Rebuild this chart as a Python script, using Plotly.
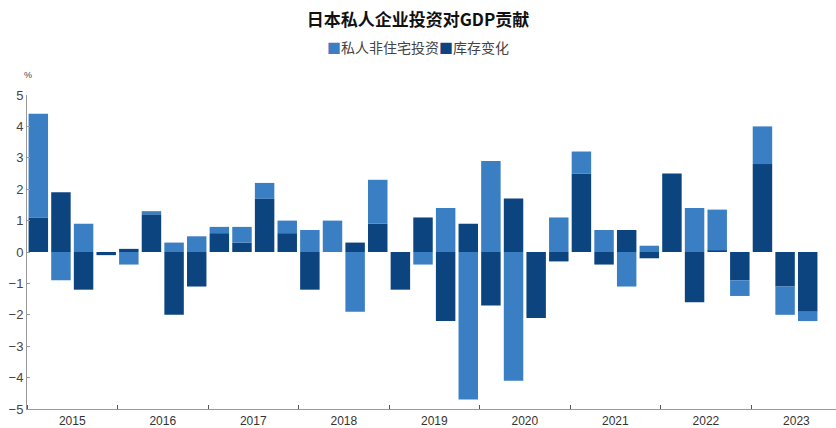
import plotly.graph_objects as go

# Quarterly contributions to Japan's real GDP growth (percentage points), 2015Q1–2023Q3
years = ["2015", "2016", "2017", "2018", "2019", "2020", "2021", "2022", "2023"]
quarters = [f"{y}Q{q}" for y in years for q in range(1, 5)][:35]

inventory_change = [1.1, 1.9, -1.2, -0.1,
                    0.1, 1.2, -2.0, -1.1,
                    0.6, 0.3, 1.7, 0.6,
                    -1.2, 0.0, 0.3, 0.9,
                    -1.2, 1.1, -2.2, 0.9,
                    -1.7, 1.7, -2.1, -0.3,
                    2.5, -0.4, 0.7, -0.2,
                    2.5, -1.6, 0.05, -0.9,
                    2.8, -1.1, -1.9]

nonres_investment = [3.3, -0.9, 0.9, 0.0,
                     -0.4, 0.1, 0.3, 0.5,
                     0.2, 0.5, 0.5, 0.4,
                     0.7, 1.0, -1.9, 1.4,
                     0.0, -0.4, 1.4, -4.7,
                     2.9, -4.1, 0.0, 1.1,
                     0.7, 0.7, -1.1, 0.2,
                     0.0, 1.4, 1.3, -0.5,
                     1.2, -0.9, -0.3]

LIGHT = "#3a7ec4"
DARK = "#0c4480"

pos = list(range(1, len(quarters) + 1))

fig = go.Figure()
fig.add_trace(go.Bar(x=pos, y=inventory_change, name="库存变化",
                     marker=dict(color=DARK, line=dict(width=0)),
                     customdata=quarters, hovertemplate="%{customdata}: %{y}<extra>库存变化</extra>"))
fig.add_trace(go.Bar(x=pos, y=nonres_investment, name="私人非住宅投资",
                     marker=dict(color=LIGHT, line=dict(width=0)),
                     customdata=quarters, hovertemplate="%{customdata}: %{y}<extra>私人非住宅投资</extra>"))

year_centers = [4 * i + 2.5 for i in range(len(years))]

fig.update_layout(
    width=836, height=428,
    margin=dict(l=27, r=0, t=95, b=19),
    barmode="relative", bargap=0.14,
    paper_bgcolor="white", plot_bgcolor="white",
    showlegend=False,
    font=dict(family="Liberation Sans, Arial, sans-serif", color="#444"),
    title=dict(text="<b>日本私人企业投资对GDP贡献</b>", x=0.5, xanchor="center",
               y=0.952, yanchor="middle",
               font=dict(family="Noto Sans CJK SC", size=17, color="#111")),
    xaxis=dict(range=[0.5, 36.25], showgrid=False, zeroline=False, automargin=False,
               showline=True, linecolor="#999", linewidth=1,
               tickmode="array", tickvals=year_centers, ticktext=years,
               ticks="", ticklabelstandoff=1, tickfont=dict(size=12, color="#333"),
               minor=dict(tick0=0.5, dtick=4, ticks="inside", ticklen=4,
                          tickcolor="#555", tickwidth=1, showgrid=False)),
    yaxis=dict(range=[-5, 5], dtick=1, showgrid=False, zeroline=False, automargin=False,
               showline=True, linecolor="#999", linewidth=1,
               ticks="inside", ticklen=3, tickcolor="#999",
               tickfont=dict(size=13, color="#444")),
    annotations=[
        # legend line: coloured squares followed by series names
        dict(text=(f"<span style='color:{LIGHT}'>■</span>私人非住宅投资"
                   f"<span style='color:{DARK}'>■</span>库存变化"),
             xref="paper", x=(418 - 27) / 809, yref="paper", y=1 + (95 - 47) / 314,
             xanchor="center", yanchor="middle", showarrow=False,
             font=dict(family="Noto Sans CJK SC", size=14, color="#444")),
        # unit label above the value axis
        dict(text="%", xref="paper", x=(28 - 27) / 809, yref="paper", y=1 + (95 - 75) / 314,
             xanchor="center", yanchor="middle", showarrow=False,
             font=dict(size=9, color="#444")),
    ],
)

fig.write_html("out.html")
